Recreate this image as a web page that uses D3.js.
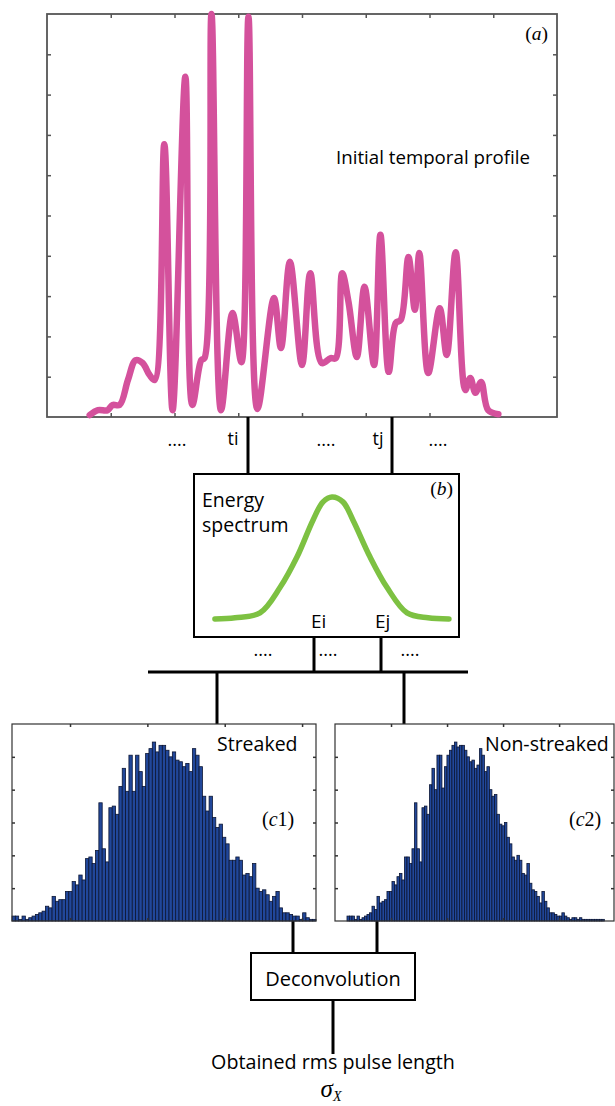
<!DOCTYPE html>
<html>
<head>
<meta charset="utf-8">
<script src="https://cdn.jsdelivr.net/npm/d3@7"></script>
<style>
body { margin: 0; background: #fff; }
svg { display: block; font-family: "Open Sans", sans-serif; }
</style>
</head>
<body>
<svg id="fig" width="615" height="1106"></svg>
<script>
// (a) initial temporal profile (time in tick units, intensity in tick units)
const profileT = [0.67, 0.80, 0.95, 1.03, 1.14, 1.27, 1.39, 1.50, 1.61, 1.69, 1.84, 1.97, 2.17, 2.28, 2.42, 2.47,
  2.58, 2.73, 2.91, 3.05, 3.16, 3.30, 3.56, 3.67, 3.81, 4.00, 4.13, 4.31, 4.45, 4.53, 4.63, 4.73, 4.86, 4.98,
  5.13, 5.23, 5.36, 5.47, 5.55, 5.67, 5.77, 5.84, 5.98, 6.16, 6.27, 6.41, 6.56, 6.64, 6.72, 6.81, 6.92, 7.08]
const profileI = [0.05, 0.17, 0.17, 0.30, 0.30, 0.92, 1.41, 1.34, 1.04, 0.92, 6.77, 0.17, 8.44, 0.30, 1.41, 1.46,
  10.0, 0.17, 2.58, 1.36, 9.93, 0.20, 2.95, 1.71, 3.85, 1.29, 3.57, 1.34, 1.46, 1.46, 3.57, 2.85, 1.49, 3.23,
  1.29, 4.52, 1.12, 2.33, 2.41, 3.97, 2.66, 4.07, 1.09, 2.70, 1.54, 4.09, 0.67, 0.97, 0.60, 0.87, 0.17, 0.07]

// (b) energy spectrum
const spectrumE = [0.79, 1.55, 2.49, 3.25, 3.89, 4.49, 4.87, 5.21, 5.62, 6.00, 6.64, 7.28, 8.04, 8.83, 9.62]
const spectrumS = [0.00, 0.01, 0.05, 0.26, 0.51, 0.81, 0.96, 1.00, 0.96, 0.81, 0.51, 0.26, 0.05, 0.01, 0.00]

// (c1) streaked and (c2) non-streaked histograms, counts per bin
const streakedCounts = [3, 3, 1, 3, 1, 2, 3, 4, 5, 6, 9, 8, 15, 12, 13, 13, 18, 18, 24, 22, 28, 25, 38, 39, 35, 43,
  72, 44, 36, 69, 70, 65, 82, 93, 79, 101, 79, 101, 91, 82, 102, 105, 109, 103, 107, 107, 104, 100, 103, 98, 97,
  94, 96, 91, 105, 101, 94, 76, 67, 76, 63, 57, 59, 51, 47, 37, 37, 39, 37, 28, 29, 27, 35, 20, 18, 19, 16, 12,
  15, 18, 8, 5, 5, 4, 3, 3, 1, 5, 2, 1, 1]
const nonStreakedCounts = [3, 3, 3, 1, 3, 1, 2, 3, 4, 5, 9, 7, 15, 11, 12, 13, 18, 18, 24, 22, 27, 29, 25, 39, 39,
  35, 44, 72, 44, 36, 69, 70, 65, 83, 93, 80, 101, 101, 81, 94, 101, 104, 107, 109, 106, 107, 107, 104, 100, 97,
  98, 93, 95, 105, 101, 91, 94, 80, 76, 77, 65, 59, 58, 60, 51, 47, 39, 37, 40, 37, 29, 28, 35, 23, 19, 18, 15,
  11, 18, 12, 8, 5, 5, 4, 3, 3, 5, 3, 2, 1, 2, 2, 1, 2, 1, 1, 1, 1, 1, 1, 1, 1, 1]

const pink = "#d4519c", green = "#7dc142", barFill = "#21479a", barEdge = "#0c1634"
const svg = d3.select("#fig")

function innerTicks(g, x, y, xTicks, yTicks, len, color) {
  const [x0, x1] = x.range(), [y0, y1] = y.range()
  g.append("g").attr("transform", "translate(0," + y0 + ")")
    .call(d3.axisBottom(x).tickValues(xTicks).tickSize(-len).tickFormat(""))
  g.append("g").attr("transform", "translate(0," + y1 + ")")
    .call(d3.axisTop(x).tickValues(xTicks).tickSize(-len).tickFormat(""))
  g.append("g").attr("transform", "translate(" + x0 + ",0)")
    .call(d3.axisLeft(y).tickValues(yTicks).tickSize(-len).tickFormat(""))
  g.append("g").attr("transform", "translate(" + x1 + ",0)")
    .call(d3.axisRight(y).tickValues(yTicks).tickSize(-len).tickFormat(""))
  g.selectAll(".domain").remove()
  g.selectAll(".tick line").attr("stroke", color).attr("stroke-width", 1.5)
}

// ---- panel (a)
const xa = d3.scaleLinear().domain([0, 8]).range([47, 557])
const ya = d3.scaleLinear().domain([0, 10]).range([417, 14])
const ga = svg.append("g")
innerTicks(ga, xa, ya, d3.range(1, 8), d3.range(1, 10), 4, "#555")
ga.append("rect").attr("x", 47).attr("y", 14).attr("width", 510).attr("height", 403)
  .attr("fill", "none").attr("stroke", "#555").attr("stroke-width", 1.8)
ga.append("path")
  .attr("d", d3.line().x((d, i) => xa(profileT[i])).y(d => ya(d)).curve(d3.curveCatmullRom.alpha(0.5))(profileI))
  .attr("fill", "none").attr("stroke", pink).attr("stroke-width", 6.5)
  .attr("stroke-linecap", "round").attr("stroke-linejoin", "round")
ga.append("text").attr("x", 336).attr("y", 164).attr("font-size", 18.7).text("Initial temporal profile")
ga.append("text").attr("x", 548).attr("y", 40).attr("text-anchor", "end")
  .attr("font-family", "Liberation Serif, serif").attr("font-size", 19.5)
  .call(t => { t.append("tspan").text("("); t.append("tspan").attr("font-style", "italic").text("a"); t.append("tspan").text(")") })

// ---- connectors
const connectors = [
  [248, 417, 248, 474], [392, 417, 392, 474],
  [314, 637, 314, 672], [381, 637, 381, 672], [148, 672, 468, 672],
  [217, 672, 217, 724], [404, 672, 404, 724],
  [293, 921, 293, 953], [377, 921, 377, 953],
  [333, 1000, 333, 1054]
]
svg.append("g").selectAll("line").data(connectors).join("line")
  .attr("x1", d => d[0]).attr("y1", d => d[1]).attr("x2", d => d[2]).attr("y2", d => d[3])
  .attr("stroke", "#000").attr("stroke-width", 3)

const labels = svg.append("g").attr("font-size", 18)
labels.append("text").attr("x", 177).attr("y", 446).attr("text-anchor", "middle").text("....")
labels.append("text").attr("x", 233).attr("y", 445).attr("text-anchor", "middle").text("ti")
labels.append("text").attr("x", 326).attr("y", 446).attr("text-anchor", "middle").text("....")
labels.append("text").attr("x", 378).attr("y", 445).attr("text-anchor", "middle").text("tj")
labels.append("text").attr("x", 438).attr("y", 446).attr("text-anchor", "middle").text("....")
labels.append("text").attr("x", 263).attr("y", 656).attr("text-anchor", "middle").text("....")
labels.append("text").attr("x", 328).attr("y", 656).attr("text-anchor", "middle").text("....")
labels.append("text").attr("x", 410).attr("y", 656).attr("text-anchor", "middle").text("....")

// ---- panel (b)
const xb = d3.scaleLinear().domain([0, 10]).range([194, 459])
const yb = d3.scaleLinear().domain([0, 1]).range([619, 497])
const gb = svg.append("g")
gb.append("rect").attr("x", 194).attr("y", 474).attr("width", 265).attr("height", 163)
  .attr("fill", "#fff").attr("stroke", "#000").attr("stroke-width", 2)
gb.append("path")
  .attr("d", d3.line().x((d, i) => xb(spectrumE[i])).y(d => yb(d)).curve(d3.curveCatmullRom.alpha(0.5))(spectrumS))
  .attr("fill", "none").attr("stroke", green).attr("stroke-width", 5.5).attr("stroke-linecap", "round")
gb.append("text").attr("x", 202).attr("y", 507).attr("font-size", 19.5).text("Energy")
gb.append("text").attr("x", 202).attr("y", 532).attr("font-size", 19.5).text("spectrum")
gb.append("text").attr("x", 311).attr("y", 628).attr("font-size", 19).text("Ei")
gb.append("text").attr("x", 375).attr("y", 628).attr("font-size", 19).text("Ej")
gb.append("text").attr("x", 453).attr("y", 495).attr("text-anchor", "end")
  .attr("font-family", "Liberation Serif, serif").attr("font-size", 19.5)
  .call(t => { t.append("tspan").text("("); t.append("tspan").attr("font-style", "italic").text("b"); t.append("tspan").text(")") })

// ---- histograms
const yc = d3.scaleLinear().domain([0, 120]).range([921, 724])
function histogram(counts, x, binStart, binWidth, xTicks, title, titleX, tag, tagX) {
  const g = svg.append("g")
  g.selectAll("rect.bar").data(counts).join("rect").attr("class", "bar")
    .attr("x", (d, i) => x(binStart + i * binWidth))
    .attr("width", x(binWidth) - x(0))
    .attr("y", d => yc(d)).attr("height", d => yc(0) - yc(d))
    .attr("fill", barFill).attr("stroke", barEdge).attr("stroke-width", 0.8)
  innerTicks(g, x, yc, xTicks, d3.range(20, 120, 20), 3, "#333")
  g.append("rect").attr("x", x.range()[0]).attr("y", 724)
    .attr("width", x.range()[1] - x.range()[0]).attr("height", 197)
    .attr("fill", "none").attr("stroke", "#333").attr("stroke-width", 1.2)
  g.append("text").attr("x", titleX).attr("y", 751).attr("font-size", 19.5).text(title)
  g.append("text").attr("x", tagX).attr("y", 826)
    .attr("font-family", "Liberation Serif, serif").attr("font-size", 20)
    .call(t => { t.append("tspan").text("("); t.append("tspan").attr("font-style", "italic").text("c"); t.append("tspan").text(tag + ")") })
}
const xc1 = d3.scaleLinear().domain([-0.75, 3.18]).range([12, 316])
histogram(streakedCounts, xc1, -0.75, 3.93 / 91, [0, 1, 2, 3], "Streaked", 217, "1", 262)
const xc2 = d3.scaleLinear().domain([0, 4.98]).range([335, 614])
histogram(nonStreakedCounts, xc2, 0.214, 0.0446, [1, 2, 3, 4], "Non-streaked", 485, "2", 569)

// ---- deconvolution and result
svg.append("rect").attr("x", 251).attr("y", 953).attr("width", 164).attr("height", 47)
  .attr("fill", "#fff").attr("stroke", "#000").attr("stroke-width", 2)
svg.append("text").attr("x", 333).attr("y", 986).attr("text-anchor", "middle").attr("font-size", 20).text("Deconvolution")
svg.append("text").attr("x", 333).attr("y", 1069).attr("text-anchor", "middle").attr("font-size", 19.7)
  .text("Obtained rms pulse length")
svg.append("text").attr("x", 331).attr("y", 1097).attr("text-anchor", "middle")
  .attr("font-family", "Liberation Serif, serif").attr("font-style", "italic")
  .call(t => {
    t.append("tspan").attr("font-size", 25).text("σ")
    t.append("tspan").attr("font-size", 14).attr("dy", 4).text("X")
  })
</script>
</body>
</html>
